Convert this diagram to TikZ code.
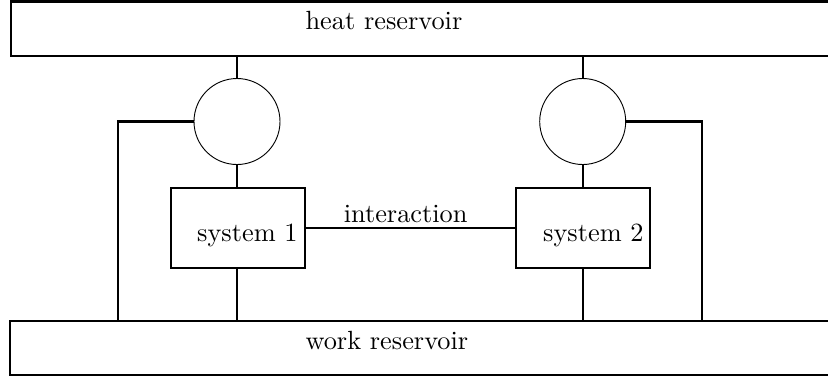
\documentclass[tikz,border=0pt]{standalone}
\begin{document}
\begin{tikzpicture}[x=0.38pt,y=-0.38pt,
  box/.style={draw, line width=0.9pt, rectangle, inner sep=0pt},
  ring/.style={draw, line width=0.35pt, circle, inner sep=0pt, minimum size=32.68pt},
  wire/.style={line width=0.9pt},
  txt/.style={inner sep=0pt, anchor=base west, font=\normalsize}]
\clip (0,0) rectangle (828,377);
% reservoirs
\node[box, minimum width=316.9pt, minimum height=20.71pt] (heat) at (428,28.75) {};
\node[box, minimum width=317.3pt, minimum height=20.63pt] (work) at (427.5,347.85) {};
% systems
\node[box, minimum width=50.92pt, minimum height=30.63pt] (s1) at (237.7,228) {};
\node[box, minimum width=51.03pt, minimum height=30.63pt] (s2) at (582.85,228) {};
% circles
\node[ring] (c1) at (237,121.5) {};
\node[ring] (c2) at (582.7,121.5) {};
% texts
\node[txt] (theat) at (305,29) {heat reservoir};
\node[txt] (twork) at (305,349) {work reservoir};
\node[txt] (t1) at (196.7,241.7) {system 1};
\node[txt] (t2) at (542.7,241.7) {system 2};
\node[txt] (tint) at (343.3,222.3) {interaction};
% side coordinates
\coordinate (L1) at (118,121.5);
\coordinate (R2) at (702.3,121.5);
% connectors
\draw[wire] (c1.north |- heat.south) -- (c1.north);
\draw[wire] (c2.north |- heat.south) -- (c2.north);
\draw[wire] (c1.south) -- (c1.south |- s1.north);
\draw[wire] (c2.south) -- (c2.south |- s2.north);
\draw[wire] (c1.south |- s1.south) -- (c1.south |- work.north);
\draw[wire] (c2.south |- s2.south) -- (c2.south |- work.north);
\draw[wire] (s1.east) -- (s2.west);
\draw[wire] (c1.west) -- (L1) -- (L1 |- work.north);
\draw[wire] (c2.east) -- (R2) -- (R2 |- work.north);
\end{tikzpicture}
\end{document}
